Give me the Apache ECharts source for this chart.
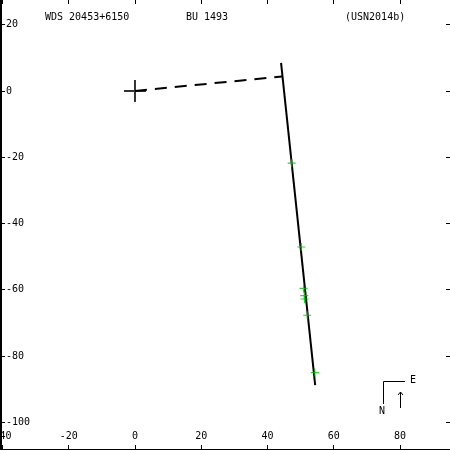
<!DOCTYPE html>
<html>
<head>
<meta charset="utf-8">
<script src="https://cdn.jsdelivr.net/npm/echarts@6/dist/echarts.min.js"></script>
<style>html,body{margin:0;padding:0;background:#fff}#c{width:450px;height:450px}</style>
</head>
<body>
<div id="c"></div>
<script>
// ---- data ----
var headerTexts = ['WDS 20453+6150', 'BU 1493', '(USN2014b)'];
var xTicks = [-40, -20, 0, 20, 40, 60, 80];
var yTicks = [-100, -80, -60, -40, -20, 0, 20];
var xRange = [-40.75, 95.1];
var yRange = [-108.08, 27.47];
var primaryStar = [[0, 0]];
var orbitLine = [[44.1, 8.5], [54.4, -88.8]];
var nodeLine = [[0, 0], [44.4, 4.4]];
var obsX = [47.3, 50.2, 50.9, 51.1, 51.2, 52.0, 54.3];
var obsY = [-21.8, -47.1, -59.6, -61.8, -62.8, -67.7, -85.0];
var compassLabels = ['N', 'E'];

var obs = obsX.map(function (x, i) { return [x, obsY[i]]; });
var FONT = 'DejaVu Sans Mono';
var txt = { fontFamily: FONT, fontSize: 10, color: '#000' };

var chart = echarts.init(document.getElementById('c'), null, { renderer: 'canvas' });
chart.setOption({
  animation: false,
  backgroundColor: '#fff',
  title: [
    { text: headerTexts[0], left: 45, top: 12, padding: 0, textStyle: Object.assign({ fontWeight: 'normal' }, txt) },
    { text: headerTexts[1], left: 186, top: 12, padding: 0, textStyle: Object.assign({ fontWeight: 'normal' }, txt) },
    { text: headerTexts[2], left: 345, top: 12, padding: 0, textStyle: Object.assign({ fontWeight: 'normal' }, txt) }
  ],
  grid: { left: 0, right: 0, top: 0, bottom: 1, containLabel: false, outerBoundsMode: 'none' },
  xAxis: [
    {
      type: 'value', position: 'bottom', min: xRange[0], max: xRange[1],
      axisLine: { show: true, onZero: false, lineStyle: { color: '#000', width: 1 } },
      axisTick: { show: true, inside: true, length: 4, customValues: xTicks, lineStyle: { color: '#000' } },
      axisLabel: { show: true, inside: true, margin: 8, customValues: xTicks, fontFamily: FONT, fontSize: 10, color: '#000', hideOverlap: false, showMinLabel: true },
      splitLine: { show: false }
    },
    {
      type: 'value', position: 'top', min: xRange[0], max: xRange[1],
      axisLine: { show: false, onZero: false },
      axisTick: { show: true, inside: true, length: 4, customValues: xTicks, lineStyle: { color: '#000' } },
      axisLabel: { show: false },
      splitLine: { show: false }
    }
  ],
  yAxis: [
    {
      type: 'value', position: 'left', min: yRange[0], max: yRange[1],
      axisLine: { show: true, onZero: false, lineStyle: { color: '#000', width: 3 } },
      axisTick: { show: true, inside: true, length: 5, customValues: yTicks, lineStyle: { color: '#000' } },
      axisLabel: { show: true, inside: true, margin: 6, customValues: yTicks, fontFamily: FONT, fontSize: 10, color: '#000' },
      splitLine: { show: false }
    },
    {
      type: 'value', position: 'right', min: yRange[0], max: yRange[1],
      axisLine: { show: false, onZero: false },
      axisTick: { show: true, inside: true, length: 4, customValues: yTicks, lineStyle: { color: '#000' } },
      axisLabel: { show: false },
      splitLine: { show: false }
    }
  ],
  series: [
    {
      type: 'line', data: orbitLine, showSymbol: false, symbol: 'none',
      lineStyle: { color: '#000', width: 2 }, z: 2
    },
    {
      type: 'line', data: nodeLine, showSymbol: false, symbol: 'none',
      lineStyle: { color: '#000', width: 2, type: [12, 8] }, z: 2
    },
    {
      type: 'scatter', data: primaryStar, symbol: 'path://M0,11 L22,11 M11,0 L11,22',
      symbolSize: 22, itemStyle: { color: 'none', borderColor: '#000', borderWidth: 2 }, z: 3
    },
    {
      type: 'scatter', data: obs, symbol: 'path://M0,4 L8,4 M4,0 L4,8',
      symbolSize: 8, itemStyle: { color: 'none', borderColor: '#00c000', borderWidth: 1.2 }, z: 4
    }
  ],
  graphic: [
    { type: 'polyline', shape: { points: [[383.5, 404], [383.5, 381.5], [405, 381.5]] }, style: { stroke: '#000', lineWidth: 1, fill: null } },
    { type: 'text', x: 379, y: 406, style: { text: compassLabels[0], font: '10px ' + FONT, fill: '#000' } },
    { type: 'text', x: 410, y: 375, style: { text: compassLabels[1], font: '10px ' + FONT, fill: '#000' } },
    { type: 'polyline', shape: { points: [[400.5, 408], [400.5, 392]] }, style: { stroke: '#000', lineWidth: 1, fill: null } },
    { type: 'polyline', shape: { points: [[398, 395], [400.5, 392], [403, 395]] }, style: { stroke: '#000', lineWidth: 1, fill: null } }
  ]
});
</script>
</body>
</html>
